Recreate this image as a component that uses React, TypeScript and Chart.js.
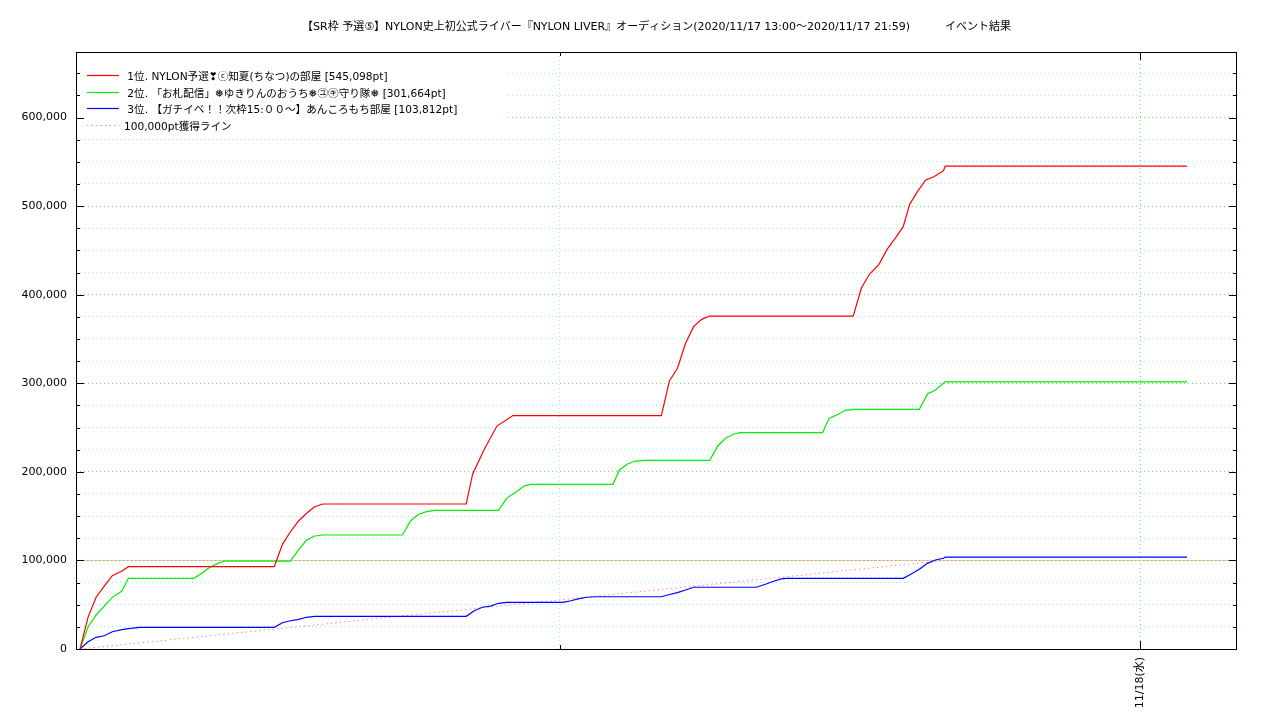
import { useEffect, useRef } from 'react';
import { Chart, registerables } from 'chart.js';

Chart.register(...registerables);

const FONT = '"DejaVu Sans", "Noto Sans CJK JP", sans-serif';

const TITLE =
  '【SR枠 予選⑤】NYLON史上初公式ライバー『NYLON LIVER』オーディション(2020/11/17 13:00～2020/11/17 21:59)          イベント結果';

// time axis: minutes after 2020/11/17 13:00
const X_MIN = 0;
const X_MAX = 720;
const X_TICK_VALUES = [300, 660];
const X_TICK_LABELS = ['', '11/18(水)'];
const X_MAJOR = [660];

const Y_MAX = 674000;
const Y_TICK_VALUES = [
  0, 25000, 50000, 75000, 100000, 125000, 150000, 175000, 200000, 225000, 250000, 275000, 300000,
  325000, 350000, 375000, 400000, 425000, 450000, 475000, 500000, 525000, 550000, 575000, 600000,
  625000, 650000,
];

const SERIES_LABELS = [
  ' 1位. NYLON予選❣ⓒ知夏(ちなつ)の部屋 [545,098pt]',
  ' 2位. 「お札配信」❅ゆきりんのおうち❅㋴㋖守り隊❅ [301,664pt]',
  ' 3位. 【ガチイベ！！次枠15:００〜】あんころもち部屋 [103,812pt]',
  '100,000pt獲得ライン',
];

const RED_MIN = [
  2.5, 7.5, 12.5, 17.5, 22.5, 28.5, 32.5, 123, 128, 133, 138, 143, 148, 153, 242, 246, 253, 261, 271,
  363, 368, 373, 378, 383, 388, 393, 482, 487, 492, 498, 503, 508, 513, 517, 522, 527, 532, 537, 538,
  539, 689,
];
const RED_PT = [
  0, 36000, 58400, 71000, 82700, 88100, 92900, 92900, 118200, 132400, 144500, 153200, 160600, 163700,
  163700, 197600, 224700, 251700, 263500, 263500, 302600, 316900, 345100, 363900, 372200, 375900,
  375900, 407200, 423000, 434300, 451200, 463600, 476800, 502000, 517000, 529500, 533200, 538800,
  540000, 545098, 545098,
];

const GREEN_MIN = [
  2.5, 7.5, 12.5, 17.5, 22.5, 28.5, 32.5, 73, 78, 83, 88, 92, 133, 138, 143, 148, 153, 202.5, 207.5,
  212.5, 217.5, 222.5, 262, 267, 273, 278, 282, 333, 337, 342, 347, 353, 393, 398, 403, 408, 412, 463,
  467, 473, 477, 483, 523, 528, 533, 539, 689,
];
const GREEN_PT = [
  0, 25200, 38400, 48500, 58300, 65500, 79800, 79800, 85500, 92200, 96700, 99300, 99300, 112000,
  123000, 127600, 128700, 128700, 144800, 152100, 155000, 156600, 156600, 170100, 177600, 184000,
  185900, 185900, 202100, 208800, 212200, 213000, 213000, 229200, 238200, 242700, 244200, 244200,
  260400, 265300, 269500, 270600, 270600, 287900, 292400, 301664, 301664,
];

const BLUE_MIN = [
  2.5, 7.5, 12.5, 17.5, 22.5, 28.5, 32.5, 39.5, 123, 128, 133, 138, 143, 148, 242, 247, 252, 257, 262,
  267, 302, 307, 312, 317, 322, 363, 368, 373, 378, 383, 422, 428, 433, 438, 441, 513, 518, 523, 528,
  533, 538, 539, 689,
];
const BLUE_PT = [
  0, 8200, 13200, 15000, 19500, 21800, 22900, 24500, 24500, 29700, 31900, 33500, 35800, 36900, 36900,
  43200, 47100, 48500, 51600, 52700, 52700, 54500, 56800, 58400, 59000, 59000, 61500, 63600, 66600,
  69700, 69700, 73400, 76800, 79400, 79800, 79800, 84700, 90000, 96700, 100500, 102400, 103812,
  103812,
];

const PACE_MIN = [2.5, 539];
const PACE_PT = [0, 100000];
const PACE_FLAT_MIN = [X_MIN, X_MAX];
const PACE_FLAT_PT = [100000, 100000];

const COLORS = ['#ff0000', '#00ee00', '#0000ff', '#ff8a8a'];
const GRID_MINOR = 'rgb(140,238,238)';
const GRID_MAJOR = 'rgb(90,238,90)';

const toXY = (xs: number[], ys: number[]) => xs.map((x, i) => ({ x, y: ys[i] }));

const gnuplotPlugin = {
  id: 'gnuplotLook',
  afterDatasetsDraw(chart: any) {
    const { ctx, chartArea: a, scales } = chart;
    ctx.save();
    // opaque key box
    ctx.fillStyle = '#ffffff';
    ctx.fillRect(a.left + 1, a.top + 8, 430, 76);
    // key entries
    const ds = chart.data.datasets.slice(0, 4);
    ctx.font = `10.6px ${FONT}`;
    ctx.textBaseline = 'middle';
    ctx.textAlign = 'left';
    ds.forEach((d: any, i: number) => {
      const y = Math.round(a.top + 23 + i * 16.7) + 0.5;
      ctx.strokeStyle = d.borderColor;
      ctx.lineWidth = d.borderWidth;
      ctx.setLineDash(d.borderDash || []);
      ctx.beginPath();
      ctx.moveTo(a.left + 11, y);
      ctx.lineTo(a.left + 43, y);
      ctx.stroke();
      ctx.setLineDash([]);
      ctx.fillStyle = '#000';
      ctx.fillText(d.label, a.left + 48, y + 2);
    });
    // frame
    ctx.strokeStyle = '#000';
    ctx.lineWidth = 1;
    ctx.strokeRect(a.left + 0.5, a.top + 0.5, a.right - a.left - 1, a.bottom - a.top);
    // inward ticks (mirrored on opposite sides)
    ctx.beginPath();
    Y_TICK_VALUES.forEach((v) => {
      const py = Math.round(scales.y.getPixelForValue(v)) + 0.5;
      const len = v % 100000 === 0 ? 8 : 4;
      ctx.moveTo(a.left, py);
      ctx.lineTo(a.left + len, py);
      ctx.moveTo(a.right, py);
      ctx.lineTo(a.right - len, py);
    });
    X_TICK_VALUES.forEach((v) => {
      const px = Math.round(scales.x.getPixelForValue(v)) + 0.5;
      const len = X_MAJOR.includes(v) ? 8 : 4;
      ctx.moveTo(px, a.bottom);
      ctx.lineTo(px, a.bottom - len);
      ctx.moveTo(px, a.top);
      ctx.lineTo(px, a.top + len);
    });
    ctx.stroke();
    ctx.restore();
  },
  afterDraw(chart: any) {
    const { ctx, chartArea: a } = chart;
    ctx.save();
    ctx.font = `11px ${FONT}`;
    ctx.fillStyle = '#000';
    ctx.textAlign = 'center';
    ctx.textBaseline = 'middle';
    ctx.fillText(TITLE, (a.left + a.right) / 2, 27);
    ctx.restore();
  },
};

export default function App() {
  const ref = useRef<HTMLCanvasElement | null>(null);

  useEffect(() => {
    if (!ref.current) return;
    const lineDs = (label: string, data: any[], color: string, extra: any = {}) => ({
      label,
      data,
      borderColor: color,
      backgroundColor: color,
      borderWidth: 1.2,
      pointRadius: 0,
      fill: false,
      tension: 0,
      ...extra,
    });
    const chart = new Chart(ref.current, {
      type: 'line',
      data: {
        datasets: [
          lineDs(SERIES_LABELS[0], toXY(RED_MIN, RED_PT), COLORS[0]),
          lineDs(SERIES_LABELS[1], toXY(GREEN_MIN, GREEN_PT), COLORS[1]),
          lineDs(SERIES_LABELS[2], toXY(BLUE_MIN, BLUE_PT), COLORS[2]),
          lineDs(SERIES_LABELS[3], toXY(PACE_MIN, PACE_PT), COLORS[3], { borderWidth: 1, borderDash: [1.5, 3] }),
          lineDs('', toXY(PACE_FLAT_MIN, PACE_FLAT_PT), COLORS[3], { borderWidth: 1, borderDash: [2, 2], borderDashOffset: 2 }),
        ],
      },
      options: {
        responsive: false,
        animation: false,
        layout: { padding: { top: 52, right: 43, left: 0, bottom: 0 } },
        plugins: {
          legend: { display: false },
          title: { display: false },
          tooltip: { enabled: false },
        },
        scales: {
          x: {
            type: 'linear',
            min: X_MIN,
            max: X_MAX,
            afterBuildTicks: (s: any) => {
              s.ticks = X_TICK_VALUES.map((v) => ({ value: v }));
            },
            afterFit: (s: any) => {
              s.height = 71;
            },
            grid: {
              drawTicks: false,
              lineWidth: 1,
              color: (c: any) => (X_MAJOR.includes(c.tick?.value) ? GRID_MAJOR : GRID_MINOR),
            },
            border: { display: false, dash: [1, 3] },
            ticks: {
              autoSkip: false,
              minRotation: 90,
              maxRotation: 90,
              padding: 8,
              color: '#000',
              font: { family: FONT, size: 11 },
              callback: (v: any) => {
                const i = X_TICK_VALUES.indexOf(Number(v));
                return i >= 0 ? X_TICK_LABELS[i] : '';
              },
            },
          },
          y: {
            type: 'linear',
            min: 0,
            max: Y_MAX,
            afterBuildTicks: (s: any) => {
              s.ticks = Y_TICK_VALUES.map((v) => ({ value: v }));
            },
            afterFit: (s: any) => {
              s.width = 76;
            },
            grid: {
              drawTicks: false,
              lineWidth: 1,
              color: (c: any) => (c.tick && c.tick.value % 100000 === 0 ? GRID_MAJOR : GRID_MINOR),
            },
            border: { display: false, dash: [1, 3] },
            ticks: {
              padding: 9,
              color: '#000',
              font: { family: FONT, size: 11 },
              callback: (v: any) =>
                Number(v) % 100000 === 0 && Number(v) <= 600000 ? Number(v).toLocaleString('en-US') : '',
            },
          },
        },
      },
      plugins: [gnuplotPlugin],
    } as any);
    return () => chart.destroy();
  }, []);

  return (
    <div style={{ position: 'fixed', left: 0, top: 0, width: 1280, height: 720, background: '#fff' }}>
      <canvas ref={ref} width={1280} height={720} style={{ display: 'block' }} />
    </div>
  );
}
